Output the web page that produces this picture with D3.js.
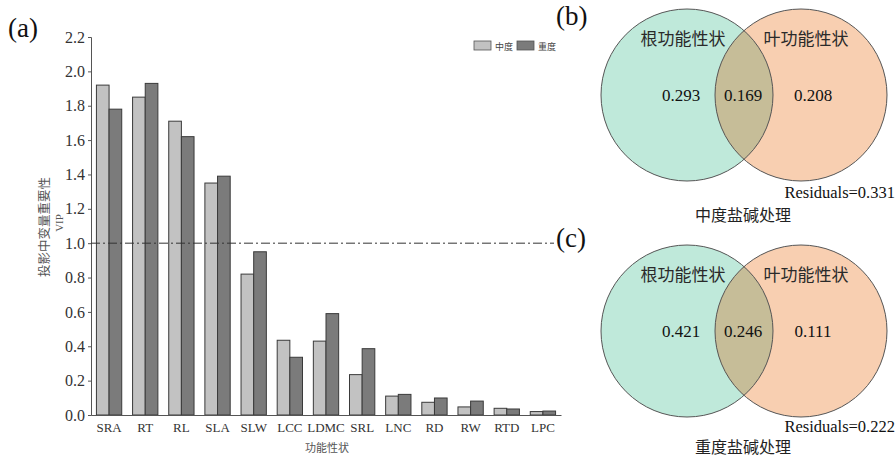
<!DOCTYPE html>
<html>
<head>
<meta charset="utf-8">
<script src="https://cdn.jsdelivr.net/npm/d3@7"></script>
<style>
  html, body { margin: 0; padding: 0; background: #fff; }
  svg { display: block; }
</style>
</head>
<body>
<svg id="chart" width="896" height="457"></svg>
<script>
// ---------- data ----------
const categories = ["SRA","RT","RL","SLA","SLW","LCC","LDMC","SRL","LNC","RD","RW","RTD","LPC"];
const moderate = [1.92,1.85,1.71,1.35,0.82,0.435,0.43,0.235,0.11,0.074,0.047,0.039,0.02];
const severe   = [1.78,1.93,1.62,1.39,0.95,0.336,0.59,0.386,0.12,0.099,0.081,0.035,0.023];
const seriesNames = ["中度","重度"];
const yTicks = [0,0.2,0.4,0.6,0.8,1.0,1.2,1.4,1.6,1.8,2.0,2.2];
const threshold = 1.0;

const vennSetNames = ["根功能性状","叶功能性状"];
const vennModerate = [0.293, 0.169, 0.208];
const vennSevere   = [0.421, 0.246, 0.111];
const residuals = [0.331, 0.222];
const vennTitles = ["中度盐碱处理","重度盐碱处理"];
const panelLabels = ["(a)","(b)","(c)"];

// ---------- setup ----------
const svg = d3.select("#chart");
const serif = "'Liberation Serif','Times New Roman',serif";
const cjk = "'Noto Sans CJK SC','Noto Sans',sans-serif";

// ---------- bar chart (a) ----------
const x0 = d3.scaleBand().domain(categories).range([91, 561]).paddingInner(0.3).paddingOuter(0.15);
const x1 = d3.scaleBand().domain(seriesNames).range([0, x0.bandwidth()]);
const y = d3.scaleLinear().domain([0, 2.2]).range([415, 37]);
const colors = {"中度": "#c2c2c2", "重度": "#7b7b7b"};

const rows = categories.map((c, i) => ({cat: c, vals: [
  {k: "中度", v: moderate[i]}, {k: "重度", v: severe[i]}]}));

const gBars = svg.append("g");
gBars.selectAll("g").data(rows).join("g")
  .attr("transform", d => `translate(${x0(d.cat)},0)`)
  .selectAll("rect").data(d => d.vals).join("rect")
  .attr("x", d => x1(d.k))
  .attr("y", d => y(d.v))
  .attr("width", x1.bandwidth())
  .attr("height", d => y(0) - y(d.v))
  .attr("fill", d => colors[d.k])
  .attr("stroke", "#3a3a3a")
  .attr("stroke-width", 1);

// y axis
const yAxis = d3.axisLeft(y).tickValues(yTicks).tickFormat(d3.format(".1f")).tickSize(3).tickPadding(3);
const gy = svg.append("g").attr("transform", "translate(91,0)").call(yAxis);
gy.select(".domain").attr("stroke", "#555");
gy.selectAll(".tick line").attr("stroke", "#555");
gy.selectAll(".tick text").attr("font-family", serif).attr("font-size", 16).attr("fill", "#333");

// x axis
const xAxis = d3.axisBottom(x0).tickSize(0).tickPadding(8);
const gx = svg.append("g").attr("transform", "translate(0,415)").call(xAxis);
gx.select(".domain").attr("stroke", "#555");
gx.selectAll(".tick text").attr("font-family", serif).attr("font-size", 13).attr("fill", "#333");

// threshold line
svg.append("line")
  .attr("x1", 91).attr("x2", 554)
  .attr("y1", y(threshold)).attr("y2", y(threshold))
  .attr("stroke", "#333").attr("stroke-width", 1)
  .attr("stroke-dasharray", "9,3,2,3");

// axis titles
svg.append("text").attr("x", 327).attr("y", 452).attr("text-anchor", "middle")
  .attr("font-family", cjk).attr("font-size", 11).attr("fill", "#555").text("功能性状");
svg.append("text").attr("transform", "translate(49,227) rotate(-90)").attr("text-anchor", "middle")
  .attr("font-family", cjk).attr("font-size", 12.5).attr("fill", "#555").text("投影中变量重要性");
svg.append("text").attr("transform", "translate(63,223) rotate(-90)").attr("text-anchor", "middle")
  .attr("font-family", serif).attr("font-size", 11).attr("fill", "#555").text("VIP");

// legend
const legend = svg.append("g");
const legX = [474, 517];
seriesNames.forEach((s, i) => {
  legend.append("rect").attr("x", legX[i]).attr("y", 41).attr("width", 17).attr("height", 9)
    .attr("fill", colors[s]).attr("stroke", "#555").attr("stroke-width", 0.8);
  legend.append("text").attr("x", legX[i] + 21).attr("y", 49.5)
    .attr("font-family", cjk).attr("font-size", 9).attr("fill", "#444").text(s);
});

// panel label (a)
svg.append("text").attr("x", 8).attr("y", 37).attr("font-family", serif)
  .attr("font-size", 27).attr("fill", "#111").text(panelLabels[0]);

// ---------- venn diagrams (b), (c) ----------
function drawVenn(cy, vals, resid, title, label, labelY, residY, titleY) {
  const r = 86, lcx = 687, rcx = 801;
  const g = svg.append("g");
  const clipId = "clip" + Math.round(cy);
  svg.append("clipPath").attr("id", clipId)
    .append("circle").attr("cx", lcx).attr("cy", cy).attr("r", r);
  g.append("circle").attr("cx", lcx).attr("cy", cy).attr("r", r).attr("fill", "#bfe9da");
  g.append("circle").attr("cx", rcx).attr("cy", cy).attr("r", r).attr("fill", "#f8cfb1");
  g.append("circle").attr("cx", rcx).attr("cy", cy).attr("r", r).attr("fill", "#c6bd98")
    .attr("clip-path", `url(#${clipId})`);
  g.append("circle").attr("cx", lcx).attr("cy", cy).attr("r", r).attr("fill", "none").attr("stroke", "#555").attr("stroke-width", 1);
  g.append("circle").attr("cx", rcx).attr("cy", cy).attr("r", r).attr("fill", "none").attr("stroke", "#555").attr("stroke-width", 1);

  g.append("text").attr("x", 683).attr("y", cy - 50).attr("text-anchor", "middle")
    .attr("font-family", cjk).attr("font-size", 17).attr("fill", "#2a2a2a").text(vennSetNames[0]);
  g.append("text").attr("x", 806).attr("y", cy - 50).attr("text-anchor", "middle")
    .attr("font-family", cjk).attr("font-size", 17).attr("fill", "#2a2a2a").text(vennSetNames[1]);

  const numX = [681, 743, 813];
  vals.forEach((v, i) => {
    g.append("text").attr("x", numX[i]).attr("y", cy + 6).attr("text-anchor", "middle")
      .attr("font-family", serif).attr("font-size", 17).attr("fill", "#111").text(d3.format(".3f")(v));
  });
  g.append("text").attr("x", 895).attr("y", residY).attr("text-anchor", "end").attr("font-family", serif)
    .attr("font-size", 16.5).attr("fill", "#111").text("Residuals=" + d3.format(".3f")(resid));
  g.append("text").attr("x", 743).attr("y", titleY).attr("text-anchor", "middle")
    .attr("font-family", cjk).attr("font-size", 16).attr("fill", "#222").text(title);
  g.append("text").attr("x", 556).attr("y", labelY).attr("font-family", serif)
    .attr("font-size", 27).attr("fill", "#111").text(label);
}
drawVenn(95, vennModerate, residuals[0], vennTitles[0], panelLabels[1], 25, 198, 221);
drawVenn(331, vennSevere, residuals[1], vennTitles[1], panelLabels[2], 247, 432, 453);
</script>
</body>
</html>
